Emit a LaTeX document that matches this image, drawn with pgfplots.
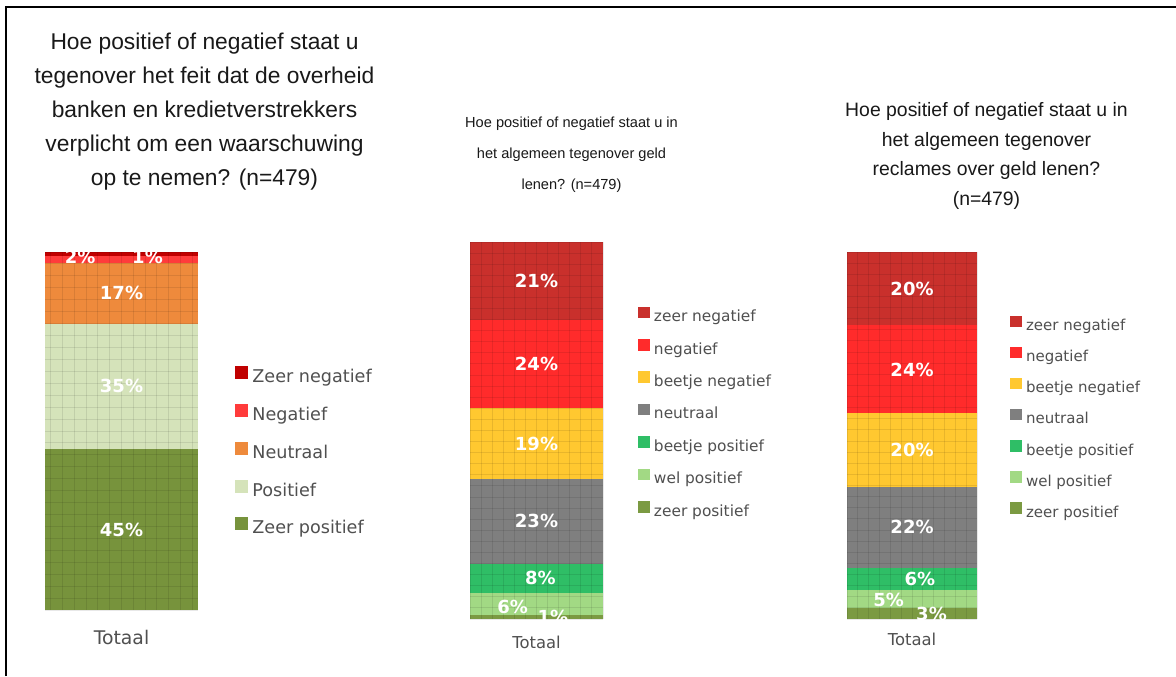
\documentclass[border=0pt]{standalone}
\usepackage{pgfplots}
\pgfplotsset{compat=1.18}
\usepackage{fontspec}
\setmainfont{DejaVu Sans}
\newfontfamily\titlefont{Liberation Sans}

% chart 1 colours
\definecolor{aZN}{HTML}{C00000}
\definecolor{aN}{HTML}{FF3B3B}
\definecolor{aNeu}{HTML}{EE8A3C}
\definecolor{aP}{HTML}{D5E3BA}
\definecolor{aZP}{HTML}{77933C}
% chart 2/3 colours
\definecolor{bZN}{HTML}{C9302C}
\definecolor{bN}{HTML}{FF2B2B}
\definecolor{bBN}{HTML}{FFC830}
\definecolor{bNeu}{HTML}{7F7F7F}
\definecolor{bBP}{HTML}{2FBE66}
\definecolor{bWP}{HTML}{A2D984}
\definecolor{bZP}{HTML}{7B9A42}
\definecolor{legtext}{HTML}{505050}

\tikzset{lbl/.style={font=\bfseries\fontsize{9}{10}\selectfont, text=white, inner sep=0pt}}
\pgfplotsset{
  stackbar/.style={
    ybar stacked, scale only axis, xmin=-0.5, xmax=0.5, ymin=0,
    axis line style={draw=none}, major tick length=0pt,
    xticklabels={}, yticklabels={},
    grid=major, major grid style={black, opacity=0.09, line width=0.5pt},
    axis on top,
    reverse legend, legend cell align=left,
    legend image code/.code={\fill[##1] (0pt,-0.3pt) rectangle (5.8pt,5.5pt);},
    legend style={draw=none, fill=none, inner sep=0pt, anchor=north west, text=legtext, column sep=2pt},
  },
  labelaxis/.style={
    scale only axis, xmin=-0.5, xmax=0.5, ymin=0, hide axis, clip=false,
  },
  labelplot/.style={draw=none, mark=none, nodes near coords, point meta=explicit symbolic,
    every node near coord/.style={lbl, anchor=center}},
}

\begin{document}
\begin{tikzpicture}
\useasboundingbox (0pt,0pt) rectangle (588pt,-338pt);
\fill[white] (0pt,0pt) rectangle (588pt,-338pt);
\draw[line width=1.2pt, black] (3pt,-338pt) -- (3pt,-3.5pt) -- (588pt,-3.5pt);

% titles
\node[anchor=north, align=center, inner sep=0pt, font=\titlefont\fontsize{11.4}{17}\selectfont, text=black!90]
  at (102.25pt,-16.5pt) {Hoe positief of negatief staat u\\tegenover het feit dat de overheid\\banken en kredietverstrekkers\\verplicht om een waarschuwing\\op te nemen? (n=479)};
\node[anchor=north, align=center, inner sep=0pt, font=\titlefont\fontsize{7.3}{15.5}\selectfont, text=black!90]
  at (285.75pt,-58.5pt) {Hoe positief of negatief staat u in\\het algemeen tegenover geld\\lenen? (n=479)};
\node[anchor=north, align=center, inner sep=0pt, font=\titlefont\fontsize{9.7}{14.85}\selectfont, text=black!90]
  at (493.25pt,-51pt) {Hoe positief of negatief staat u in\\het algemeen tegenover\\reclames over geld lenen?\\(n=479)};

% ---------- chart 1 ----------
\begin{axis}[stackbar, at={(22.5pt,-305pt)}, anchor=south west,
  width=76.5pt, height=179pt, bar width=76.5pt, ymax=100,
  xtick distance=0.076923, ytick distance=3.3333,
  legend style={at={(axis description cs:1.242,0.682)}, row sep=8.65pt,
    font=\fontsize{8.8}{10}\selectfont, nodes={inner sep=0pt, text height=6.5pt, text depth=2pt}},
  legend image code/.code={\fill[#1] (0pt,-0.5pt) rectangle (6.5pt,6pt);},
  xlabel={Totaal}, xlabel style={at={(axis description cs:0.5,0)}, anchor=north, yshift=-10pt, inner sep=0pt,
    font=\fontsize{9.4}{10}\selectfont, text=legtext}]
\addplot[fill=aZP, draw=none] coordinates {(0,45)};
\addplot[fill=aP, draw=none] coordinates {(0,35)};
\addplot[fill=aNeu, draw=none] coordinates {(0,17)};
\addplot[fill=aN, draw=none] coordinates {(0,2)};
\addplot[fill=aZN, draw=none] coordinates {(0,1)};
\legend{Zeer positief, Positief, Neutraal, Negatief, Zeer negatief}
\end{axis}
\begin{axis}[labelaxis, at={(22.5pt,-305pt)}, anchor=south west, width=76.5pt, height=179pt, ymax=100]
\addplot[labelplot] coordinates {(0,22.5) [45\%] (0,62.5) [35\%] (0,88.5) [17\%] (-0.27,98.6) [2\%] (0.17,98.6) [1\%]};
\end{axis}

% ---------- chart 2 ----------
\begin{axis}[stackbar, at={(235pt,-309.5pt)}, anchor=south west,
  width=66.5pt, height=188.5pt, bar width=66.5pt, ymax=102,
  xtick distance=0.083333, ytick distance=3,
  legend style={at={(axis description cs:1.263,0.830)}, row sep=6.8pt,
    font=\fontsize{7.7}{9}\selectfont, nodes={inner sep=0pt, text height=6pt, text depth=1.8pt}},
  xlabel={Totaal}, xlabel style={at={(axis description cs:0.5,0)}, anchor=north, yshift=-8.5pt, inner sep=0pt,
    font=\fontsize{8.2}{10}\selectfont, text=legtext}]
\addplot[fill=bZP, draw=none] coordinates {(0,1)};
\addplot[fill=bWP, draw=none] coordinates {(0,6)};
\addplot[fill=bBP, draw=none] coordinates {(0,8)};
\addplot[fill=bNeu, draw=none] coordinates {(0,23)};
\addplot[fill=bBN, draw=none] coordinates {(0,19)};
\addplot[fill=bN, draw=none] coordinates {(0,24)};
\addplot[fill=bZN, draw=none] coordinates {(0,21)};
\legend{zeer positief, wel positief, beetje positief, neutraal, beetje negatief, negatief, zeer negatief}
\end{axis}
\begin{axis}[labelaxis, at={(235pt,-309.5pt)}, anchor=south west, width=66.5pt, height=188.5pt, ymax=102]
\addplot[labelplot] coordinates {(0,91.5) [21\%] (0,69) [24\%] (0,47.5) [19\%] (0,26.5) [23\%]
  (0.03,11) [8\%] (-0.18,3.4) [6\%] (0.124,0.6) [1\%]};
\end{axis}

% ---------- chart 3 ----------
\begin{axis}[stackbar, at={(423.5pt,-309.5pt)}, anchor=south west,
  width=65pt, height=183.5pt, bar width=65pt, ymax=100,
  xtick distance=0.083333, ytick distance=3.0303,
  legend style={at={(axis description cs:1.254,0.828)}, row sep=6.3pt,
    font=\fontsize{7.5}{9}\selectfont, nodes={inner sep=0pt, text height=5.8pt, text depth=1.7pt}},
  xlabel={Totaal}, xlabel style={at={(axis description cs:0.5,0)}, anchor=north, yshift=-7pt, inner sep=0pt,
    font=\fontsize{8.2}{10}\selectfont, text=legtext}]
\addplot[fill=bZP, draw=none] coordinates {(0,3)};
\addplot[fill=bWP, draw=none] coordinates {(0,5)};
\addplot[fill=bBP, draw=none] coordinates {(0,6)};
\addplot[fill=bNeu, draw=none] coordinates {(0,22)};
\addplot[fill=bBN, draw=none] coordinates {(0,20)};
\addplot[fill=bN, draw=none] coordinates {(0,24)};
\addplot[fill=bZN, draw=none] coordinates {(0,20)};
\legend{zeer positief, wel positief, beetje positief, neutraal, beetje negatief, negatief, zeer negatief}
\end{axis}
\begin{axis}[labelaxis, at={(423.5pt,-309.5pt)}, anchor=south west, width=65pt, height=183.5pt, ymax=100]
\addplot[labelplot] coordinates {(0,90) [20\%] (0,68) [24\%] (0,46) [20\%] (0,25) [22\%]
  (0.06,10.9) [6\%] (-0.18,5.2) [5\%] (0.15,1.3) [3\%]};
\end{axis}
\end{tikzpicture}
\end{document}
